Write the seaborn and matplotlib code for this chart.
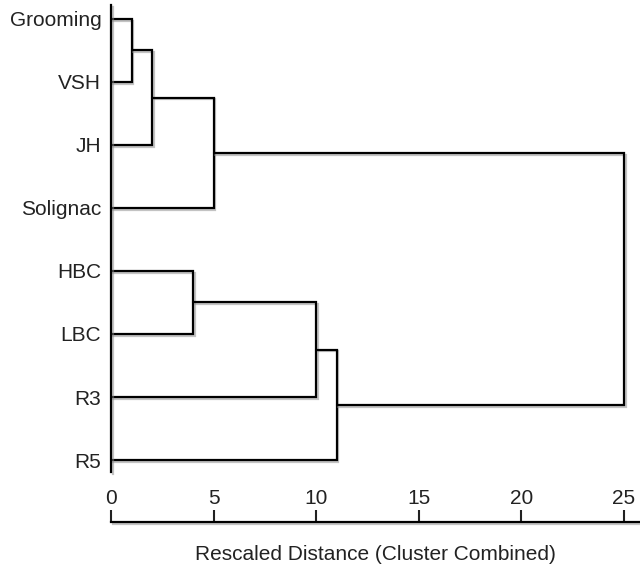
import numpy as np
import pandas as pd
import matplotlib
matplotlib.use("Agg")
import matplotlib.pyplot as plt
import matplotlib.patheffects as pe
import seaborn as sns

# ---- data ----
leaves = ["Grooming", "VSH", "JH", "Solignac", "HBC", "LBC", "R3", "R5"]
# merge table: node ids 0..7 are leaves, new clusters get ids 8, 9, ...
merge_left = [0, 8, 9, 4, 11, 12, 10]
merge_right = [1, 2, 3, 5, 6, 7, 13]
merge_dist = [1, 2, 5, 4, 10, 11, 25]
x_ticks = [0, 5, 10, 15, 20, 25]
x_label = "Rescaled Distance (Cluster Combined)"

# ---- build dendrogram segments from merge table ----
node_x = {i: 0.0 for i in range(len(leaves))}
node_y = {i: float(i) for i in range(len(leaves))}
rows = []
for k, (a, b, d) in enumerate(zip(merge_left, merge_right, merge_dist)):
    nid = len(leaves) + k
    pts = [(node_x[a], node_y[a]), (d, node_y[a]), (d, node_y[b]), (node_x[b], node_y[b])]
    for order, (px, py) in enumerate(pts):
        rows.append({"seg": k, "order": order, "x": px, "y": py})
    node_x[nid] = d
    node_y[nid] = (node_y[a] + node_y[b]) / 2.0
df = pd.DataFrame(rows)

# ---- style ----
sns.set_style("white")
plt.rcParams["font.family"] = ["Liberation Sans", "DejaVu Sans"]
plt.rcParams["font.size"] = 15

fig = plt.figure(figsize=(6.4, 5.69), dpi=100)
ax = fig.add_axes([111 / 640, 47 / 569, 529 / 640, 517 / 569])

sns.lineplot(data=df, x="x", y="y", units="seg", estimator=None, sort=False,
             color="black", linewidth=1.6, ax=ax, legend=False)

shadow = [pe.SimpleLineShadow(offset=(1.2, -1.2), shadow_color="#888888", alpha=0.5),
          pe.Normal()]
for ln in ax.lines:
    ln.set_path_effects(shadow)
    ln.set_solid_joinstyle("miter")

ax.set_xlim(0, 25.78)
ax.set_ylim(7.984, -0.222)

ax.set_yticks(range(len(leaves)))
ax.set_yticklabels(leaves)
ax.set_xticks(x_ticks)
ax.set_xticklabels([str(t) for t in x_ticks])
ax.tick_params(axis="y", length=0, pad=7, labelsize=15, colors="#222222")
ax.tick_params(axis="x", direction="in", length=8.6, width=1.5, pad=-23.6,
               labelsize=15, colors="#222222", bottom=True)
ax.set_xlabel(x_label, fontsize=15, labelpad=16.6, color="#222222")
ax.set_ylabel("")

for s in ["top", "right"]:
    ax.spines[s].set_visible(False)
for s in ["left", "bottom"]:
    ax.spines[s].set_linewidth(1.6)
    ax.spines[s].set_color("black")
    ax.spines[s].set_path_effects(shadow)
ax.spines["left"].set_bounds(-0.222, 7.19)

fig.savefig("out.png", dpi=100)
